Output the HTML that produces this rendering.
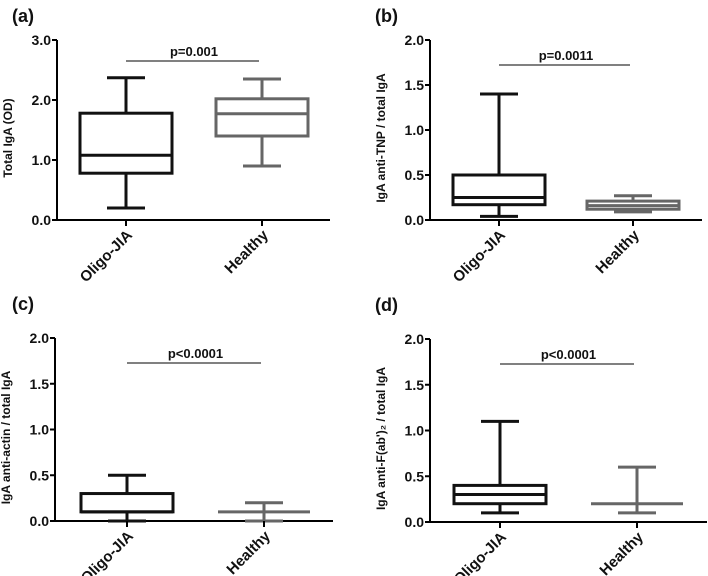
<!DOCTYPE html>
<html><head><meta charset="utf-8"><style>
body{margin:0;background:#fff}
svg{display:block;font-family:"Liberation Sans",Arial,sans-serif;font-weight:bold}
</style></head><body>
<svg id="s" width="708" height="576" viewBox="0 0 708 576"></svg>
<script>
const categories=["Oligo-JIA","Healthy"];
const statsA=[[0.2,0.78,1.08,1.78,2.37],[0.9,1.4,1.77,2.02,2.35]];
const statsB=[[0.04,0.17,0.25,0.5,1.4],[0.09,0.12,0.16,0.21,0.27]];
const statsC=[[0,0.1,0.1,0.3,0.5],[0,0.1,0.1,0.1,0.2]];
const statsD=[[0.1,0.2,0.3,0.4,1.1],[0.1,0.2,0.2,0.2,0.6]];
const ticksA=[0,1,2,3];
const ticks2=[0,0.5,1,1.5,2];
const pvals=["p=0.001","p=0.0011","p<0.0001","p<0.0001"];
const panels=[
 {id:"a",ax:57,top:40,bot:220,xend:330,cx:[126,262],max:3,ticks:ticksA,stats:statsA,p:pvals[0],py:61,lx:12,ly:22,title:"Total IgA (OD)"},
 {id:"b",ax:430,top:40,bot:220,xend:702,cx:[499,633],max:2,ticks:ticks2,stats:statsB,p:pvals[1],py:65,lx:375,ly:22,title:"IgA anti-TNP / total IgA"},
 {id:"c",ax:55,top:338,bot:521,xend:333,cx:[127,264],max:2,ticks:ticks2,stats:statsC,p:pvals[2],py:363,lx:12,ly:310,title:"IgA anti-actin / total IgA"},
 {id:"d",ax:430,top:339,bot:522,xend:707,cx:[500,637],max:2,ticks:ticks2,stats:statsD,p:pvals[3],py:364,lx:375,ly:311,title:"IgA anti-F(ab')₂ / total IgA"}
];
const NS="http://www.w3.org/2000/svg",svg=document.getElementById('s');
function mk(t,a,p,txt){const e=document.createElementNS(NS,t);for(const k in a)e.setAttribute(k,a[k]);if(txt!==undefined)e.textContent=txt;(p||svg).appendChild(e);return e;}
panels.forEach(P=>{
 const g=mk('g',{fill:'#111'});
 
 
 const y=v=>P.bot-(v/P.max)*(P.bot-P.top);
 const lab=mk('text',{x:P.lx,y:P.ly,'font-size':18},g,'('+P.id+')');
 
 
 const ya=mk('line',{x1:P.ax,y1:P.top,x2:P.ax,y2:P.bot+1,stroke:'#000','stroke-width':2},g);
 
 
 const xa=mk('line',{x1:P.ax-1,y1:P.bot,x2:P.xend,y2:P.bot,stroke:'#000','stroke-width':2},g);
 
 
 P.ticks.forEach(t=>{
  mk('line',{x1:P.ax-5,y1:y(t),x2:P.ax,y2:y(t),stroke:'#000','stroke-width':2},g);
  const tl=mk('text',{x:P.ax-6,y:y(t)+5,'text-anchor':'end','font-size':14},g,t.toFixed(1));
  
  
 });
 const ymid=(P.top+P.bot)/2+8;
 const tt=mk('text',{x:0,y:0,'text-anchor':'middle','font-size':12,transform:`translate(${P.ax-45},${ymid}) rotate(-90)`},g,P.title);
 
 
 P.stats.forEach((s,i)=>{
  const cx=P.cx[i],col=i?'#666':'#111',hw=46,cw=19;
  const bg=mk('g',{stroke:col,'stroke-width':3,fill:'none'},g);
  
  
  mk('line',{x1:cx,y1:y(s[0]),x2:cx,y2:y(s[1])},bg);
  mk('line',{x1:cx,y1:y(s[3]),x2:cx,y2:y(s[4])},bg);
  mk('line',{x1:cx-cw,y1:y(s[0]),x2:cx+cw,y2:y(s[0])},bg);
  mk('line',{x1:cx-cw,y1:y(s[4]),x2:cx+cw,y2:y(s[4])},bg);
  mk('rect',{x:cx-hw,y:y(s[3]),width:hw*2,height:Math.max(0,y(s[1])-y(s[3]))},bg);
  mk('line',{x1:cx-hw,y1:y(s[2]),x2:cx+hw,y2:y(s[2])},bg);
  mk('line',{x1:cx,y1:P.bot,x2:cx,y2:P.bot+6,stroke:'#000','stroke-width':2},g);
  const cl=mk('text',{x:0,y:0,'text-anchor':'end','font-size':15,transform:`translate(${cx+7},${P.bot+16}) rotate(-45)`},g,categories[i]);
  
  
 });
 const pl=mk('line',{x1:P.cx[0],y1:P.py,x2:P.cx[1]-3,y2:P.py,stroke:'#000','stroke-width':1},g);
 
 
 const pt=mk('text',{x:(P.cx[0]+P.cx[1])/2,y:P.py-5,'text-anchor':'middle','font-size':13},g,P.p);
 
 
});
</script>
</body></html>
